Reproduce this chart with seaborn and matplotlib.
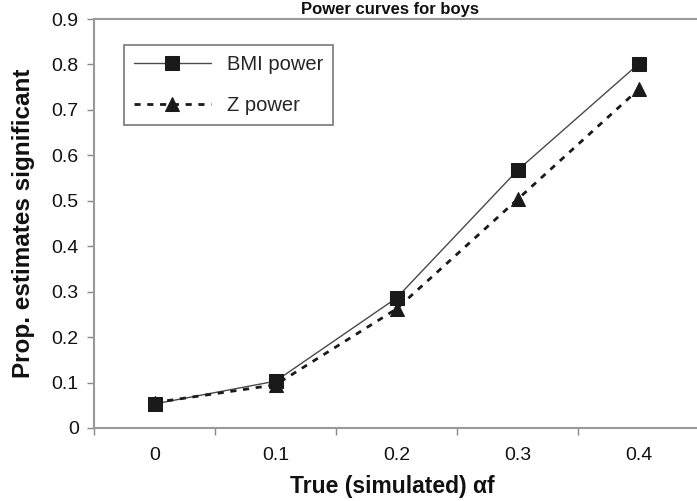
import matplotlib
matplotlib.use("Agg")
import matplotlib.pyplot as plt
import seaborn as sns
import pandas as pd
from matplotlib.ticker import FixedLocator

alpha_f = ["0", "0.1", "0.2", "0.3", "0.4"]
bmi_power = [0.053, 0.103, 0.286, 0.567, 0.801]
z_power = [0.056, 0.095, 0.262, 0.503, 0.745]

df = pd.DataFrame({
    "alpha_f": alpha_f * 2,
    "power": bmi_power + z_power,
    "series": ["BMI power"] * len(alpha_f) + ["Z power"] * len(alpha_f),
})

sns.set_theme(style="white")
plt.rcParams["font.family"] = ["Liberation Sans", "DejaVu Sans"]

W, H = 697, 501
fig = plt.figure(figsize=(W / 100, H / 100), dpi=100)
# plot area: left spine x=94, bottom y=428, top y=19, right spine just off the picture
ax = fig.add_axes([94 / W, (H - 428) / H, 605 / W, 409 / H])

sns.lineplot(data=df[df.series == "BMI power"], x="alpha_f", y="power", ax=ax,
             color="#4a4a4a", linewidth=1.0, marker="s", markersize=9.5,
             markerfacecolor="#1a1a1a", markeredgecolor="#1a1a1a",
             label="BMI power", sort=False)
sns.lineplot(data=df[df.series == "Z power"], x="alpha_f", y="power", ax=ax,
             color="#1a1a1a", linewidth=2.0, linestyle=(0, (2.2, 2.4)), marker="^",
             markersize=10, markerfacecolor="#1a1a1a", markeredgecolor="#1a1a1a",
             label="Z power", sort=False)

ax.set_xlim(-0.5, 4.5)
ax.set_ylim(0, 0.9)
ax.set_yticks([i / 10 for i in range(10)])
ax.set_yticklabels(["0"] + [f"{i / 10:.1f}" for i in range(1, 10)])
ax.set_xticks(range(len(alpha_f)))
ax.set_xticklabels(alpha_f)
ax.xaxis.set_minor_locator(FixedLocator([i - 0.5 for i in range(len(alpha_f) + 1)]))
ax.tick_params(axis="x", which="major", length=0, pad=14, labelsize=14, colors="#111111")
ax.tick_params(axis="x", which="minor", bottom=True, length=5, width=1, color="#888888", direction="out")
ax.tick_params(axis="y", left=True, length=5, width=1, color="#888888", direction="out",
               labelsize=14, labelcolor="#111111", pad=6)

for side in ["left", "bottom", "top", "right"]:
    ax.spines[side].set_color("#999999")
    ax.spines[side].set_linewidth(1.5)

ax.set_xlabel("True (simulated) αf", fontsize=16.5, fontweight="bold", color="#111111", va="center")
ax.xaxis.set_label_coords((392 - 94) / 605, (428 - 486) / 409)
ax.set_ylabel("Prop. estimates significant", fontsize=17.5, fontweight="bold", color="#111111", va="center")
ax.yaxis.set_label_coords((24 - 94) / 605, 0.5)
# title sits in the thin strip above the plot box
fig.text(390 / W, 1 - 14 / H, "Power curves for boys", fontsize=12, fontweight="bold",
         color="#111111", ha="center", va="baseline")

leg = ax.legend(loc="upper left", bbox_to_anchor=((124 - 94) / 605, (428 - 45) / 409),
                borderaxespad=0, frameon=True, fancybox=False, edgecolor="#555555",
                fontsize=14.5, handlelength=3.8, labelspacing=1.1, borderpad=0.5,
                handletextpad=0.8)
leg.get_frame().set_linewidth(1.2)

fig.savefig("out.png", dpi=100)
